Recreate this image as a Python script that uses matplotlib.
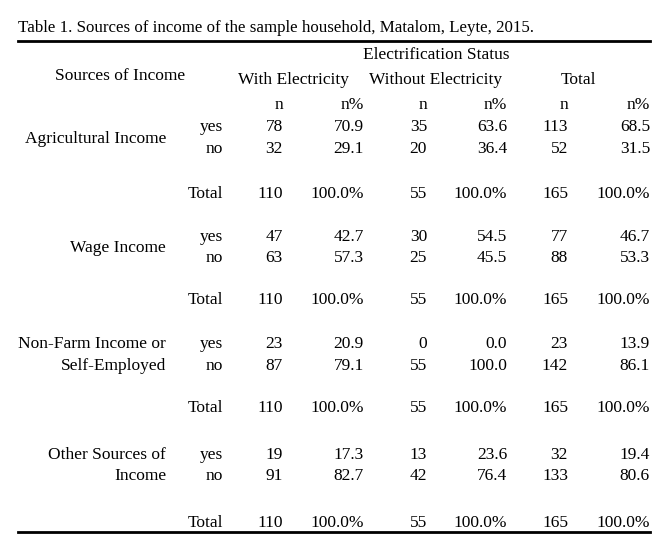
import matplotlib.pyplot as plt

# table data
sources = [["Agricultural Income"], ["Wage Income"],
           ["Non-Farm Income or", "Self-Employed"], ["Other Sources of", "Income"]]
with_n = [[78, 32, 110], [47, 63, 110], [23, 87, 110], [19, 91, 110]]
with_pct = [[70.9, 29.1, 100.0], [42.7, 57.3, 100.0], [20.9, 79.1, 100.0], [17.3, 82.7, 100.0]]
without_n = [[35, 20, 55], [30, 25, 55], [0, 55, 55], [13, 42, 55]]
without_pct = [[63.6, 36.4, 100.0], [54.5, 45.5, 100.0], [0.0, 100.0, 100.0], [23.6, 76.4, 100.0]]
total_n = [[113, 52, 165], [77, 88, 165], [23, 142, 165], [32, 133, 165]]
total_pct = [[68.5, 31.5, 100.0], [46.7, 53.3, 100.0], [13.9, 86.1, 100.0], [19.4, 80.6, 100.0]]
row_labels = ["yes", "no", "Total"]
title = "Table 1. Sources of income of the sample household, Matalom, Leyte, 2015."

plt.rcParams['font.family'] = ['Liberation Serif', 'DejaVu Serif']
fs = 12.5

fig = plt.figure(figsize=(6.71, 5.52), dpi=100)
ax = fig.add_axes([0, 0, 1, 1])
ax.set_xlim(0, 671)
ax.set_ylim(552, 0)
ax.axis('off')

def txt(x, y, s, ha='center', size=fs):
    # small shift down so glyphs sit where the reference has them
    ax.text(x, y + 2, s, ha=ha, va='center', fontsize=size, color='black')

txt(18, 26, title, ha='left', size=12.2)
ax.plot([18, 650], [41, 41], color='black', lw=2)
ax.plot([18, 650], [532, 532], color='black', lw=2)

txt(436, 53, "Electrification Status")
txt(120, 74, "Sources of Income")
txt(293, 78, "With Electricity")
txt(436, 78, "Without Electricity")
txt(578, 78, "Total")

col_x = [283, 364, 427, 507, 568, 650]
for x, h in zip(col_x, ["n", "n%"] * 3):
    txt(x, 103, h, ha='right')

# row positions of each group: yes, no, Total
group_y = [[125, 147, 192], [235, 256, 298], [342, 364, 406], [453, 474, 521]]

for g in range(4):
    ys = group_y[g]
    lab = sources[g]
    if len(lab) == 1:
        txt(166, (ys[0] + ys[1]) / 2 + 1, lab[0], ha='right')
    else:
        txt(166, ys[0], lab[0], ha='right')
        txt(166, ys[1], lab[1], ha='right')
    for r in range(3):
        y = ys[r]
        txt(223, y, row_labels[r], ha='right')
        pct_fmt = "{:.1f}%" if r == 2 else "{:.1f}"
        vals = [str(with_n[g][r]), pct_fmt.format(with_pct[g][r]),
                str(without_n[g][r]), pct_fmt.format(without_pct[g][r]),
                str(total_n[g][r]), pct_fmt.format(total_pct[g][r])]
        for x, v in zip(col_x, vals):
            txt(x, y, v, ha='right')

fig.savefig("out.png", dpi=100)
